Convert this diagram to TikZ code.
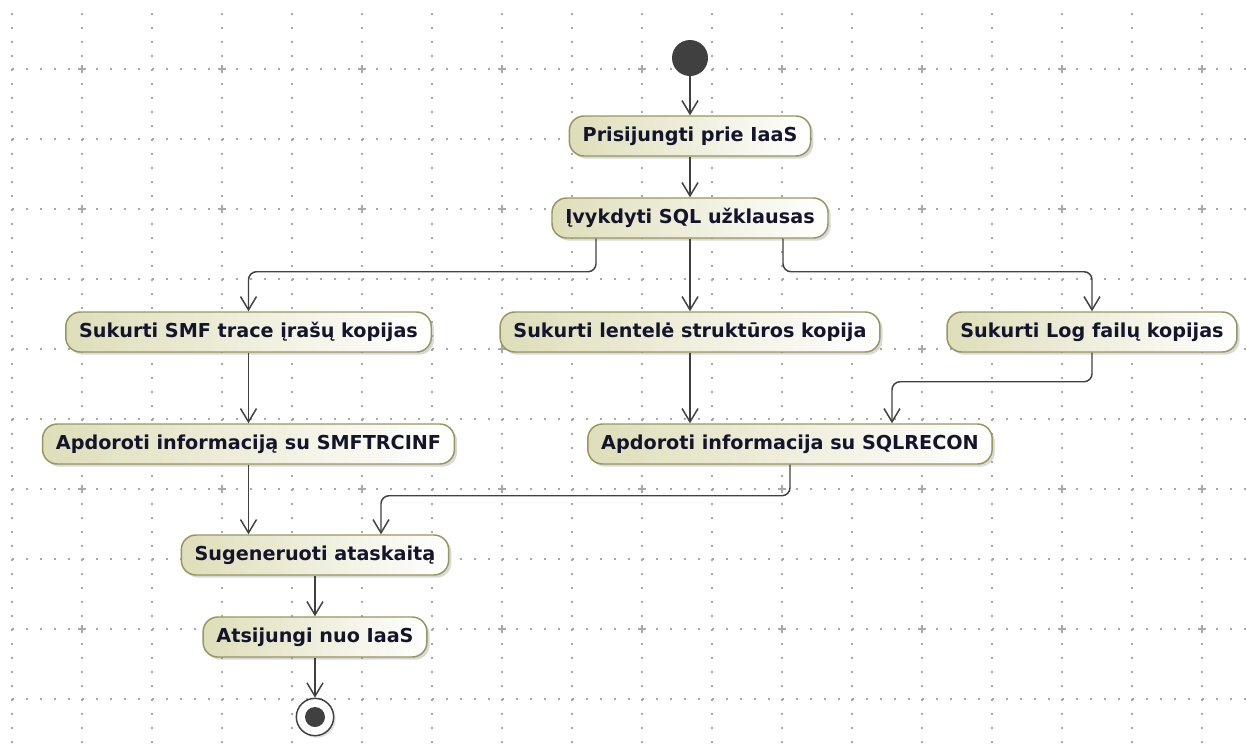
\documentclass[tikz,border=0pt]{standalone}
\usepackage{fontspec}
\setmainfont{DejaVu Sans}
\usepackage{tikz}
\usetikzlibrary{arrows.meta, positioning, calc, shadows}
\definecolor{alyvine}{RGB}{150, 150, 95}
\definecolor{smelio}{RGB}{222, 222, 186}
\definecolor{linija}{RGB}{64, 64, 64}
\definecolor{tinklas}{RGB}{168, 168, 168}
\definecolor{tekstas}{RGB}{20, 20, 45}

\begin{document}
\begin{tikzpicture}[x=0.75pt, y=-0.75pt,
    veiksmas/.style={draw=alyvine, line width=1.1pt, left color=smelio, right color=white,
          rounded corners=11pt, minimum height=30pt, inner xsep=10pt, text=tekstas,
          font=\fontsize{14.4pt}{16pt}\selectfont\bfseries,
          drop shadow={shadow xshift=2pt, shadow yshift=-2pt, opacity=0.3}},
    srautas/.style={draw=linija, line width=1.1pt, rounded corners=6pt,
          -{Straight Barb[length=10pt, width=12pt, line width=1.1pt]}},
    tinklelis/.style={draw=tinklas, line width=1.3pt, dash pattern=on 1.3pt off 9.2pt},
    kryzius/.style={draw=tinklas, line width=1.2pt}]
      \useasboundingbox (0,0) rectangle (1247,754);

      \foreach \gx in {12,82,...,1202} \draw[tinklelis] (\gx,13) -- (\gx,754);
      \foreach \gy in {69,139,...,699} \draw[tinklelis] (12,\gy) -- (1247,\gy);
      \foreach \gx in {82,222,...,1202}
        \foreach \gy in {69,209,...,629}
          \draw[kryzius] (\gx,\gy) +(-4,0) -- +(4,0) +(0,-4) -- +(0,4);

      \node[circle, fill=linija, minimum size=27pt, inner sep=0pt] (pradzia) at (690,58) {};

      \node[veiksmas] (prisijungti) at (690,136) {Prisijungti prie IaaS};
      \node[veiksmas] (uzklausos) at (690,218) {Įvykdyti SQL užklausas};

      \node[veiksmas] (smfkopijos) at (248.5,332) {Sukurti SMF trace įrašų kopijas};
      \node[veiksmas] (lentele) at (690,332) {Sukurti lentelė struktūros kopija};
      \node[veiksmas] (logkopijos) at (1092,332) {Sukurti Log failų kopijas};

      \node[veiksmas] (smftrcinf) at (248.5,444) {Apdoroti informaciją su SMFTRCINF};
      \node[veiksmas] (sqlrecon) at (790,444) {Apdoroti informacija su SQLRECON};

      \node[veiksmas] (ataskaita) at (315,555) {Sugeneruoti ataskaitą};
      \node[veiksmas] (atsijungti) at (315,637) {Atsijungi nuo IaaS};

      \node[circle, draw=linija, line width=1.1pt, fill=white, minimum size=28pt, inner sep=0pt,
            drop shadow={shadow xshift=1.5pt, shadow yshift=-1.5pt, opacity=0.25}] (pabaiga) at (315,717) {};
      \node[circle, fill=linija, minimum size=15pt, inner sep=0pt] (pabaigacentras) at (pabaiga) {};

      \draw[srautas] (pradzia) -- (prisijungti);
      \draw[srautas] (prisijungti) -- (uzklausos);
      \draw[srautas] ($(uzklausos.south)+(-94,0)$) -- ++(0,33) -| (smfkopijos.north);
      \draw[srautas] (uzklausos) -- (lentele);
      \draw[srautas] ($(uzklausos.south)+(93,0)$) -- ++(0,33) -| (logkopijos.north);

      \draw[srautas] (smfkopijos) -- (smftrcinf);
      \draw[srautas] (lentele) -- (lentele |- sqlrecon.north);
      \draw[srautas] (logkopijos.south) -- ++(0,29) -| ($(sqlrecon.north)+(102,0)$);

      \draw[srautas] (smftrcinf) -- (smftrcinf |- ataskaita.north);
      \draw[srautas] (sqlrecon.south) -- ++(0,31) -| ($(ataskaita.north)+(66,0)$);

      \draw[srautas] (ataskaita) -- (atsijungti);
      \draw[srautas] (atsijungti) -- (pabaiga);
    \end{tikzpicture}
\end{document}
